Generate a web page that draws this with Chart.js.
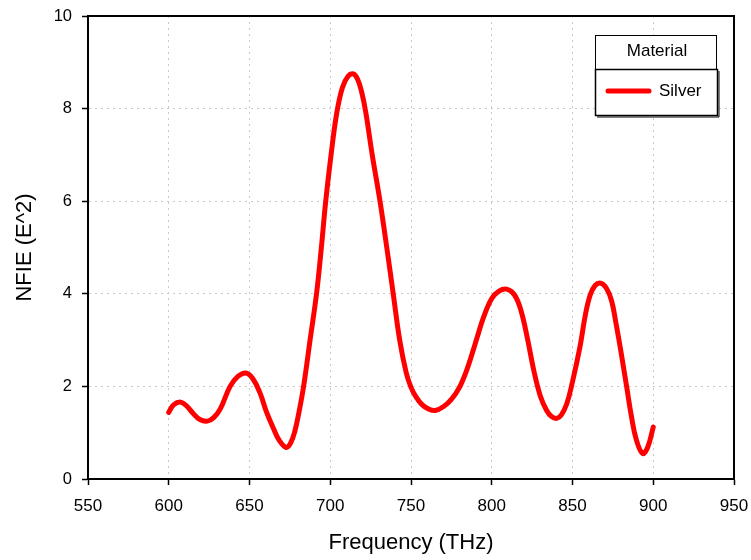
<!DOCTYPE html>
<html>
<head>
<meta charset="utf-8">
<script src="https://cdn.jsdelivr.net/npm/chart.js@4"></script>
<style>
  body { margin: 0; background: #fff; }
</style>
</head>
<body>
<canvas id="myChart" width="751" height="560"></canvas>
<script>

let freq = [600, 603, 607.4, 611, 615, 619, 624, 628, 632, 638, 643, 647.8, 652, 656.5, 660.5, 664.7, 668.5, 672.8,
    675.5, 678, 680.5, 683.5, 687.5, 691.5, 694.5, 697.2, 700.5, 704, 707.5, 711, 714.3, 717, 719.5, 722, 726,
    730.8, 735, 739, 743, 747, 750, 753, 757, 761, 765, 770, 775, 780, 785, 790, 795, 800, 804.5, 809.2, 814,
    818, 822, 826, 830, 834, 837, 840.3, 843, 846.4, 850, 854.6, 858, 861, 864, 867.4, 871, 874.2, 877, 880,
    883.5, 886.5, 889.5, 893.4, 896.5, 900];
let nfie = [1.44, 1.60, 1.66, 1.58, 1.42, 1.29, 1.25, 1.33, 1.52, 2.0, 2.22, 2.29, 2.17, 1.86, 1.45, 1.10, 0.83, 0.68,
    0.78, 1.02, 1.42, 2.0, 3.0, 4.0, 5.0, 6.0, 7.0, 7.9, 8.45, 8.7, 8.75, 8.63, 8.35, 7.92, 7.0,
    6.0, 5.0, 4.0, 3.0, 2.3, 1.98, 1.78, 1.6, 1.51, 1.48, 1.56, 1.72, 1.98, 2.4, 2.95, 3.5, 3.9, 4.06, 4.10, 3.98,
    3.65, 3.05, 2.35, 1.8, 1.48, 1.35, 1.31, 1.38, 1.62, 2.1, 2.85, 3.55, 3.98, 4.18, 4.23, 4.12, 3.85, 3.35, 2.75,
    2.0, 1.35, 0.85, 0.55, 0.68, 1.12];
let seriesName = 'Silver';
let legendTitle = 'Material';
let xTitle = 'Frequency (THz)';
let yTitle = 'NFIE (E^2)';

const points = freq.map((f, i) => ({ x: f, y: nfie[i] }));
const fontFamily = '"Liberation Sans", Arial, sans-serif';

// box round the plot (top + right edges)
const frame = {
    id: 'frame',
    afterDraw(chart) {
        const { ctx, chartArea: a } = chart;
        ctx.save();
        ctx.strokeStyle = '#000';
        ctx.lineWidth = 2;
        ctx.beginPath();
        ctx.moveTo(a.left, a.top);
        ctx.lineTo(a.right, a.top);
        ctx.lineTo(a.right, a.bottom);
        ctx.stroke();
        ctx.restore();
    }
};

// legend box with a title row
const legendBox = {
    id: 'legendBox',
    afterDraw(chart) {
        const c = chart.ctx;
        const a = chart.chartArea;
        const x = a.right - 139, y = a.top + 19, w = 122;
        c.save();
        c.fillStyle = '#fff';
        c.fillRect(x, y, w, 81);
        c.strokeStyle = '#000';
        c.lineWidth = 1;
        c.strokeRect(x + 0.5, y + 0.5, w - 1, 34);
        c.lineWidth = 1.5;
        c.strokeRect(x + 0.5, y + 34.5, w, 46);
        c.lineWidth = 1;
        c.beginPath();
        c.moveTo(x + 2, y + 82);
        c.lineTo(x + w + 2, y + 82);
        c.lineTo(x + w + 2, y + 36);
        c.stroke();

        c.fillStyle = '#000';
        c.font = '17px ' + fontFamily;
        c.textAlign = 'center';
        c.textBaseline = 'middle';
        c.fillText(legendTitle, x + w / 2 + 1, y + 16);

        const ds = chart.data.datasets[0];
        c.strokeStyle = ds.borderColor;
        c.lineWidth = 5;
        c.lineCap = 'round';
        c.beginPath();
        c.moveTo(x + 13, y + 56);
        c.lineTo(x + 54, y + 56);
        c.stroke();
        c.textAlign = 'left';
        c.fillText(ds.label, x + 64, y + 56);
        c.restore();
    }
};

let ctx = document.getElementById('myChart').getContext('2d');
let myChart = new Chart(ctx, {
    type: 'line',
    data: {
        datasets: [{
            label: seriesName,
            data: points,
            borderColor: '#ff0000',
            borderWidth: 5,
            borderCapStyle: 'round',
            borderJoinStyle: 'round',
            pointRadius: 0,
            fill: false,
            tension: 0.4
        }]
    },
    options: {
        responsive: false,
        animation: false,
        layout: { padding: { left: 0, right: 17, top: 16, bottom: 0 } },
        plugins: {
            legend: { display: false },
            tooltip: { enabled: false }
        },
        scales: {
            x: {
                type: 'linear',
                min: 550,
                max: 950,
                ticks: {
                    stepSize: 50,
                    padding: 11,
                    color: '#000',
                    font: { family: fontFamily, size: 17 }
                },
                grid: {
                    color: '#c8c8c8',
                    lineWidth: 1,
                    tickLength: 6,
                    tickColor: '#000',
                    tickWidth: 1.5,
                    tickBorderDash: []
                },
                border: { color: '#000', width: 2, dash: [2, 4] },
                title: {
                    display: true,
                    text: xTitle,
                    color: '#000',
                    padding: { top: 0, bottom: 3.5 },
                    font: { family: fontFamily, size: 22 }
                },
                afterFit: s => {
                    s.height = 81;
                    s.paddingLeft = 0;
                    s.paddingRight = 0;
                }
            },
            y: {
                min: 0,
                max: 10,
                ticks: {
                    stepSize: 2,
                    padding: 10,
                    color: '#000',
                    font: { family: fontFamily, size: 16.5 }
                },
                grid: {
                    color: '#c8c8c8',
                    lineWidth: 1,
                    tickLength: 6,
                    tickColor: '#000',
                    tickWidth: 1.5,
                    tickBorderDash: []
                },
                border: { color: '#000', width: 2, dash: [2, 4] },
                title: {
                    display: true,
                    text: yTitle,
                    color: '#000',
                    padding: { top: 12, bottom: 0 },
                    font: { family: fontFamily, size: 22 }
                },
                afterFit: s => {
                    s.width = 88;
                    s.paddingTop = 0;
                    s.paddingBottom = 0;
                }
            }
        }
    },
    plugins: [frame, legendBox]
});

</script>
</body>
</html>
